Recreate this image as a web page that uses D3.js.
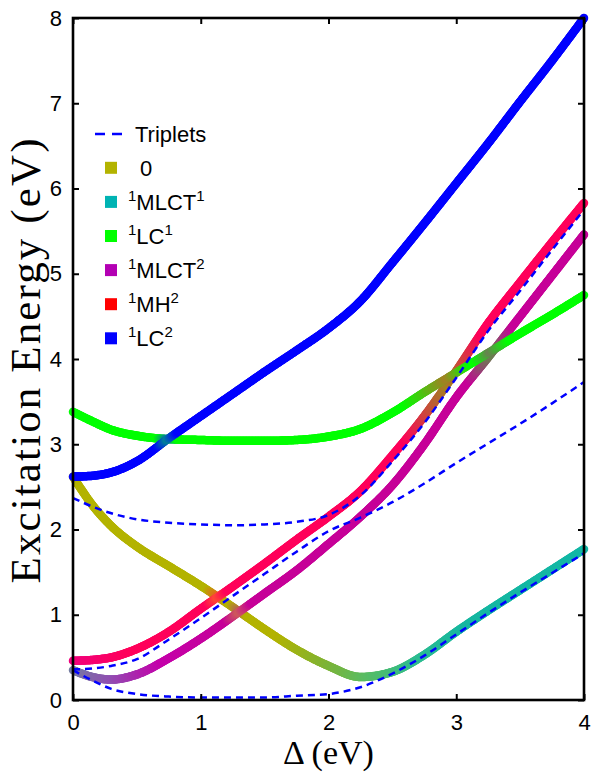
<!DOCTYPE html>
<html>
<head>
<meta charset="utf-8">
<script src="https://cdn.jsdelivr.net/npm/d3@7/dist/d3.min.js"></script>
<style>
  body { margin: 0; background: #fff; }
  text { fill: #000; }
</style>
</head>
<body>
<svg width="592" height="775"></svg>
<script>
// ---- data ----
var delta = [0, 0.15, 0.3, 0.5, 0.75, 1, 1.25, 1.5, 1.75, 2, 2.25, 2.5, 2.75, 3, 3.25, 3.5, 3.75, 4];

// singlet states (thick, coloured by character)
var sOlive  = [2.62, 2.29, 2.04, 1.80, 1.57, 1.34, 1.09, 0.83, 0.59, 0.40, 0.27, 0.33, 0.53, 0.80, 1.05, 1.29, 1.53, 1.77];
var sPurple = [0.35, 0.27, 0.24, 0.30, 0.49, 0.72, 0.98, 1.25, 1.52, 1.83, 2.15, 2.52, 3.00, 3.55, 4.02, 4.50, 4.98, 5.46];
var sRed    = [0.46, 0.47, 0.50, 0.60, 0.80, 1.07, 1.33, 1.60, 1.88, 2.15, 2.45, 2.87, 3.33, 3.86, 4.42, 4.90, 5.37, 5.83];
var sGreen  = [3.38, 3.27, 3.17, 3.10, 3.06, 3.05, 3.04, 3.04, 3.05, 3.09, 3.18, 3.37, 3.61, 3.84, 4.07, 4.30, 4.52, 4.75];
var sBlue   = [2.62, 2.63, 2.67, 2.80, 3.07, 3.33, 3.59, 3.85, 4.10, 4.36, 4.68, 5.13, 5.59, 6.06, 6.53, 7.02, 7.50, 8.00];

// triplet states (dashed)
var t1 = [0.35, 0.23, 0.13, 0.07, 0.04, 0.03, 0.03, 0.03, 0.05, 0.07, 0.15, 0.31, 0.52, 0.77, 1.02, 1.26, 1.49, 1.72];
var t2 = [2.37, 2.27, 2.19, 2.12, 2.08, 2.06, 2.05, 2.06, 2.09, 2.17, 2.40, 2.80, 3.25, 3.78, 4.33, 4.80, 5.28, 5.75];
var t3 = [0.36, 0.37, 0.40, 0.48, 0.71, 0.96, 1.22, 1.48, 1.74, 1.98, 2.14, 2.32, 2.54, 2.78, 3.01, 3.24, 3.48, 3.73];

// character weights of each singlet along delta: [delta, [[state, weight], ...]]
var cOlive = [
  [0, [["0", 1]]], [1.05, [["0", 1]]], [1.13, [["0", 0.6], ["MH2", 0.35], ["MLCT2", 0.15]]], [1.21, [["0", 1]]],
  [1.23, [["0", 1]]], [1.3, [["0", 0.6], ["MLCT2", 0.4]]], [1.37, [["0", 1]]],
  [1.6, [["0", 1]]], [2.0, [["0", 0.7], ["MLCT1", 0.3]]], [2.3, [["0", 0.5], ["MLCT1", 0.55]]],
  [2.7, [["0", 0.25], ["MLCT1", 0.8]]], [3.1, [["0", 0.12], ["MLCT1", 0.9]]], [4, [["0", 0.1], ["MLCT1", 0.92]]]
];
var cPurple = [
  [0, [["0", 0.3], ["MLCT1", 0.4], ["MLCT2", 0.35], ["LC2", 0.1]]],
  [0.3, [["0", 0.2], ["MLCT1", 0.25], ["MLCT2", 0.6], ["LC2", 0.1]]],
  [0.7, [["MLCT2", 0.95], ["MH2", 0.1]]], [1.2, [["MLCT2", 0.85], ["MH2", 0.18]]],
  [1.3, [["MLCT2", 0.5], ["MH2", 0.1], ["0", 0.5]]], [1.4, [["MLCT2", 0.85], ["MH2", 0.18]]],
  [3.1, [["MLCT2", 0.85], ["MH2", 0.18]]], [3.27, [["MLCT2", 0.45], ["MH2", 0.1], ["LC1", 0.5]]],
  [3.45, [["MLCT2", 0.85], ["MH2", 0.18]]], [4, [["MLCT2", 0.85], ["MH2", 0.18]]]
];
var cRed = [
  [0, [["MH2", 0.45], ["MLCT2", 0.7]]], [0.45, [["MH2", 0.9], ["MLCT2", 0.5]]],
  [1.05, [["MH2", 0.9], ["MLCT2", 0.5]]], [1.13, [["MH2", 0.6], ["MLCT2", 0.3], ["0", 0.4]]],
  [1.21, [["MH2", 0.9], ["MLCT2", 0.5]]], [2.6, [["MH2", 0.9], ["MLCT2", 0.5]]],
  [2.93, [["MH2", 0.5], ["MLCT2", 0.2], ["LC1", 0.5]]], [3.2, [["MH2", 0.9], ["MLCT2", 0.5]]],
  [4, [["MH2", 0.9], ["MLCT2", 0.5]]]
];
var cGreen = [
  [0, [["LC1", 1]]], [0.66, [["LC1", 1]]], [0.74, [["LC1", 0.5], ["LC2", 0.6]]], [0.82, [["LC1", 1]]],
  [2.6, [["LC1", 1]]], [2.93, [["LC1", 0.5], ["MH2", 0.5], ["MLCT2", 0.2]]], [3.12, [["LC1", 1]]],
  [3.15, [["LC1", 1]]], [3.27, [["LC1", 0.5], ["MLCT2", 0.45], ["MH2", 0.1]]], [3.42, [["LC1", 1]]],
  [4, [["LC1", 1]]]
];
var cBlue = [
  [0, [["LC2", 1]]], [0.66, [["LC2", 1]]], [0.74, [["LC2", 0.6], ["LC1", 0.5]]], [0.82, [["LC2", 1]]],
  [4, [["LC2", 1]]]
];

var legendKeys = ["0", "MLCT1", "LC1", "MLCT2", "MH2", "LC2"];
var legendLabels = [["", " 0", ""], ["1", "MLCT", "1"], ["1", "LC", "1"], ["1", "MLCT", "2"], ["1", "MH", "2"], ["1", "LC", "2"]];
var xTicks = [0, 1, 2, 3, 4];
var yTicks = [0, 1, 2, 3, 4, 5, 6, 7, 8];

// ---- layout ----
var margin = {left: 73, top: 18, right: 8, bottom: 75};
var width = 592 - margin.left - margin.right;
var height = 775 - margin.top - margin.bottom;

var svg = d3.select("svg");
var g = svg.append("g").attr("transform", "translate(" + margin.left + "," + margin.top + ")");

var x = d3.scaleLinear().domain([0, 4]).range([0, width]);
var y = d3.scaleLinear().domain([0, 8]).range([height, 0]);
var stateColor = d3.scaleOrdinal().domain(legendKeys)
    .range(["#b3b300", "#00b3b3", "#00ff00", "#b300b3", "#ff0000", "#0000ff"]);

// add up the state colours by weight (clamped), like mixing light
function mixColor(mix) {
    var r = 0, gg = 0, b = 0;
    mix.forEach(function(m) {
        var c = d3.rgb(stateColor(m[0]));
        r += c.r * m[1]; gg += c.g * m[1]; b += c.b * m[1];
    });
    return d3.rgb(Math.min(255, r), Math.min(255, gg), Math.min(255, b)).formatHex();
}

var line = d3.line()
    .x(function(d) { return x(d[0]); })
    .y(function(d) { return y(d[1]); })
    .curve(d3.curveMonotoneX);

function pts(ys) { return delta.map(function(d, i) { return [d, ys[i]]; }); }

// thick singlet curve drawn as short pieces so the colour can follow the character
function drawSinglet(ys, chars) {
    var colorAt = d3.scaleLinear()
        .domain(chars.map(function(c) { return c[0]; }))
        .range(chars.map(function(c) { return mixColor(c[1]); }))
        .interpolate(d3.interpolateRgb)
        .clamp(true);
    var tmp = g.append("path").attr("d", line(pts(ys))).attr("fill", "none");
    var node = tmp.node();
    var len = node.getTotalLength();
    var step = 1.5;
    var n = Math.ceil(len / step);
    var prev = node.getPointAtLength(0);
    var grp = g.append("g");
    for (var i = 1; i <= n; i++) {
        var p = node.getPointAtLength(Math.min(len, i * step));
        grp.append("line")
            .attr("x1", prev.x).attr("y1", prev.y)
            .attr("x2", p.x).attr("y2", p.y)
            .attr("stroke", colorAt(x.invert((prev.x + p.x) / 2)))
            .attr("stroke-width", 8.5)
            .attr("stroke-linecap", "round");
        prev = p;
    }
    tmp.remove();
}

drawSinglet(sOlive, cOlive);
drawSinglet(sPurple, cPurple);
drawSinglet(sRed, cRed);
drawSinglet(sGreen, cGreen);
drawSinglet(sBlue, cBlue);

[t1, t2, t3].forEach(function(t) {
    g.append("path")
        .attr("d", line(pts(t)))
        .attr("fill", "none")
        .attr("stroke", "#0000ff")
        .attr("stroke-width", 2.5)
        .attr("stroke-dasharray", "7,5");
});

// ---- axes (MATLAB style box with inward ticks) ----
function styleAxis(sel) {
    sel.select(".domain").remove();
    sel.selectAll(".tick line").attr("stroke", "#000").attr("stroke-width", 2);
    sel.selectAll("text").attr("font-family", "Liberation Sans, Arial, sans-serif")
        .attr("font-size", 22).attr("fill", "#000");
}
g.append("g").attr("transform", "translate(0," + height + ")")
    .call(d3.axisBottom(x).tickValues(xTicks).tickFormat(d3.format("d")).tickSizeInner(-6).tickPadding(14))
    .call(styleAxis);
g.append("g")
    .call(d3.axisTop(x).tickValues(xTicks).tickFormat("").tickSizeInner(-6))
    .call(styleAxis);
g.append("g")
    .call(d3.axisLeft(y).tickValues(yTicks).tickFormat(d3.format("d")).tickSizeInner(-6).tickPadding(11))
    .call(styleAxis);
g.append("g").attr("transform", "translate(" + width + ",0)")
    .call(d3.axisRight(y).tickValues(yTicks).tickFormat("").tickSizeInner(-6))
    .call(styleAxis);

g.append("rect")
    .attr("width", width).attr("height", height)
    .attr("fill", "none").attr("stroke", "#000").attr("stroke-width", 2.6);

// ---- axis labels ----
svg.append("text")
    .attr("x", margin.left + width / 2).attr("y", 764)
    .attr("text-anchor", "middle")
    .attr("font-family", "Liberation Serif, Times New Roman, serif")
    .attr("font-size", 34)
    .text("\u0394 (eV)");
svg.append("text")
    .attr("transform", "translate(40," + (margin.top + height / 2 + 2) + ") rotate(-90)")
    .attr("text-anchor", "middle")
    .attr("font-family", "Liberation Serif, Times New Roman, serif")
    .attr("font-size", 43)
    .attr("textLength", 445)
    .attr("lengthAdjust", "spacing")
    .text("Excitation Energy (eV)");

// ---- legend ----
var legend = svg.append("g");
legend.append("line")
    .attr("x1", 95).attr("x2", 122).attr("y1", 134).attr("y2", 134)
    .attr("stroke", "#0000ff").attr("stroke-width", 2.5).attr("stroke-dasharray", "10,7");
legend.append("text")
    .attr("x", 135).attr("y", 141.5)
    .attr("font-family", "Liberation Sans, Arial, sans-serif").attr("font-size", 22)
    .text("Triplets");

var item = legend.selectAll(".item").data(legendKeys).enter().append("g")
    .attr("transform", function(d, i) { return "translate(0," + (167.8 + i * 34.1) + ")"; });
item.append("rect")
    .attr("x", 105).attr("y", -6).attr("width", 12).attr("height", 12)
    .attr("fill", function(d) { return stateColor(d); });
var lt = item.append("text")
    .attr("x", 128).attr("y", 8)
    .attr("font-family", "Liberation Sans, Arial, sans-serif").attr("font-size", 22)
    .attr("xml:space", "preserve");
lt.append("tspan").attr("font-size", 15).attr("dy", -9)
    .text(function(d, i) { return legendLabels[i][0]; });
lt.append("tspan").attr("dy", function(d, i) { return legendLabels[i][0] ? 9 : 0; })
    .attr("dx", function(d, i) { return legendLabels[i][0] ? 0 : 6; })
    .text(function(d, i) { return legendLabels[i][1]; });
lt.append("tspan").attr("font-size", 15).attr("dy", -9)
    .text(function(d, i) { return legendLabels[i][2]; });
</script>
</body>
</html>
